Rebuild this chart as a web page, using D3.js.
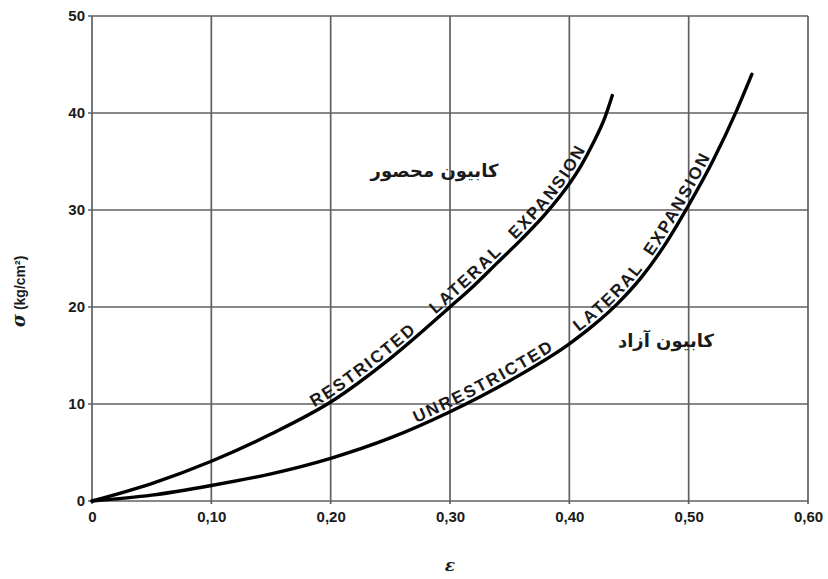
<!DOCTYPE html>
<html>
<head>
<meta charset="utf-8">
<script src="https://cdn.jsdelivr.net/npm/d3@7"></script>
<style>
    body { margin: 0; background: #fff; }
    text { fill: #1a1a1a; }
</style>
</head>
<body>
<div id="chart"></div>
<script>
// curve data (strain, stress kg/cm2)
var restrictedStrain = [0, 0.05, 0.10, 0.15, 0.20, 0.25, 0.30, 0.32, 0.34, 0.36, 0.38, 0.40, 0.41, 0.42, 0.43, 0.436];
var restrictedStress = [0, 1.8, 4.1, 6.9, 10.2, 14.7, 20, 22.2, 24.6, 27.0, 29.6, 32.7, 34.6, 36.9, 39.6, 41.8];
var unrestrictedStrain = [0, 0.05, 0.10, 0.15, 0.20, 0.25, 0.30, 0.35, 0.40, 0.42, 0.44, 0.46, 0.48, 0.50, 0.52, 0.54, 0.553];
var unrestrictedStress = [0, 0.6, 1.6, 2.8, 4.4, 6.5, 9.2, 12.4, 16.2, 18.1, 20.3, 23.0, 26.4, 30.5, 35.0, 40.2, 44];

// axis ticks
var xTicks = [0, 0.1, 0.2, 0.3, 0.4, 0.5, 0.6];
var xTickLabels = ["0", "0,10", "0,20", "0,30", "0,40", "0,50", "0,60"];
var yTicks = [0, 10, 20, 30, 40, 50];

// words written along the curves
var restrictedWords = ["RESTRICTED", "LATERAL", "EXPANSION"];
var unrestrictedWords = ["UNRESTRICTED", "LATERAL", "EXPANSION"];
var restrictedLabel = "کابیون محصور";
var unrestrictedLabel = "کابیون آزاد";

// formatting parameters
var width = 716;
var height = 485;
var margin = { top: 16, bottom: 78, left: 92, right: 20 };

var svg = d3.select("#chart")
    .append("svg")
    .attr("width", width + margin.left + margin.right)
    .attr("height", height + margin.top + margin.bottom)
    .append("g")
    .attr("transform", "translate(" + margin.left + "," + margin.top + ")");

var x = d3.scaleLinear().domain([0, 0.6]).range([0, width]);
var y = d3.scaleLinear().domain([0, 50]).range([height, 0]);

// grid lines
svg.append("g")
    .selectAll("line")
    .data(xTicks)
    .enter().append("line")
    .attr("x1", function (d) { return x(d); })
    .attr("x2", function (d) { return x(d); })
    .attr("y1", 0)
    .attr("y2", height + 3)
    .attr("stroke", "#606060")
    .attr("stroke-width", 1.7);

svg.append("g")
    .selectAll("line")
    .data(yTicks)
    .enter().append("line")
    .attr("x1", -4)
    .attr("x2", width)
    .attr("y1", function (d) { return y(d); })
    .attr("y2", function (d) { return y(d); })
    .attr("stroke", "#606060")
    .attr("stroke-width", 1.7);

// tick labels through d3 axes
var xAxis = d3.axisBottom(x)
    .tickValues(xTicks)
    .tickSize(0)
    .tickPadding(10)
    .tickFormat(function (d, i) { return xTickLabels[i]; });
var gx = svg.append("g")
    .attr("transform", "translate(0," + height + ")")
    .call(xAxis);

var yAxis = d3.axisLeft(y)
    .tickValues(yTicks)
    .tickSize(0)
    .tickPadding(7);
var gy = svg.append("g").call(yAxis);

[gx, gy].forEach(function (g) {
    g.select(".domain").remove();
    g.selectAll("text")
        .style("font-family", "'Liberation Sans', Arial, sans-serif")
        .style("font-weight", "bold")
        .style("font-size", "15px")
        .attr("fill", "#222");
});

// axis titles
svg.append("text")
    .attr("x", x(0.3))
    .attr("y", height + 70)
    .style("text-anchor", "middle")
    .style("font-family", "'DejaVu Serif', serif")
    .style("font-style", "italic")
    .style("font-weight", "bold")
    .style("font-size", "17px")
    .text("ε");

var yTitle = svg.append("text")
    .attr("transform", "translate(" + (-67) + "," + y(21.6) + ") rotate(-90)")
    .style("text-anchor", "middle")
    .style("font-family", "'Liberation Sans', Arial, sans-serif")
    .style("font-weight", "bold")
    .style("font-size", "14px");
yTitle.append("tspan")
    .style("font-style", "italic")
    .style("font-family", "'DejaVu Serif', serif")
    .style("font-size", "18px")
    .text("σ");
yTitle.append("tspan").text("  (kg/cm²)");

// curves
var line = d3.line()
    .x(function (d) { return x(d[0]); })
    .y(function (d) { return y(d[1]); })
    .curve(d3.curveMonotoneX);

var curves = [
    { id: "restricted", pts: d3.zip(restrictedStrain, restrictedStress), words: restrictedWords, starts: [0.188, 0.29, 0.357] },
    { id: "unrestricted", pts: d3.zip(unrestrictedStrain, unrestrictedStress), words: unrestrictedWords, starts: [0.273, 0.41, 0.472] }
];

curves.forEach(function (c) {
    var path = svg.append("path")
        .attr("id", c.id)
        .attr("d", line(c.pts))
        .attr("fill", "none")
        .attr("stroke", "#000")
        .attr("stroke-width", 3.4)
        .attr("stroke-linecap", "round");

    // find the path length where the curve reaches a given strain
    var node = path.node();
    var total = node.getTotalLength();
    function lengthAt(strain) {
        var lo = 0, hi = total, px = x(strain);
        for (var k = 0; k < 40; k++) {
            var mid = (lo + hi) / 2;
            if (node.getPointAtLength(mid).x < px) lo = mid; else hi = mid;
        }
        return lo;
    }

    c.words.forEach(function (w, i) {
        svg.append("text")
            .attr("dy", -4)
            .style("font-family", "'Liberation Sans', Arial, sans-serif")
            .style("font-weight", "bold")
            .style("font-size", "17px")
            .style("letter-spacing", "2.1px")
            .append("textPath")
            .attr("href", "#" + c.id)
            .attr("startOffset", lengthAt(c.starts[i]))
            .text(w);
    });
});

// persian labels
svg.append("text")
    .attr("x", x(0.287))
    .attr("y", y(33.4))
    .style("text-anchor", "middle")
    .style("font-family", "'DejaVu Sans', sans-serif")
    .style("font-weight", "bold")
    .style("font-size", "18px")
    .text(restrictedLabel);

svg.append("text")
    .attr("x", x(0.481))
    .attr("y", y(15.9))
    .style("text-anchor", "middle")
    .style("font-family", "'DejaVu Sans', sans-serif")
    .style("font-weight", "bold")
    .style("font-size", "18px")
    .text(unrestrictedLabel);
</script>
</body>
</html>
